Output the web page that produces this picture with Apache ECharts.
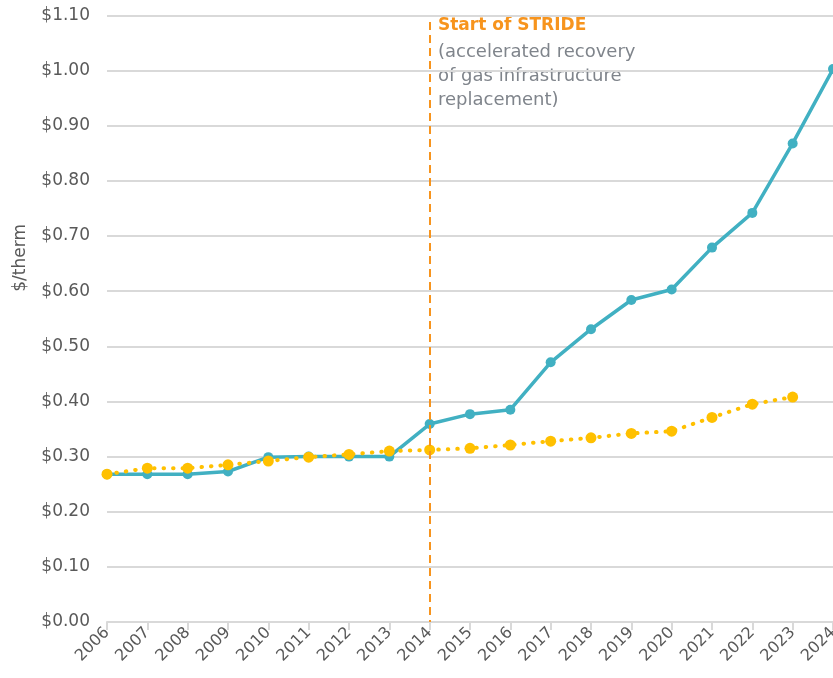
<!DOCTYPE html>
<html><head><meta charset="utf-8">
<script src="https://cdn.jsdelivr.net/npm/echarts@6/dist/echarts.min.js"></script>
<style>html,body{margin:0;padding:0;background:#fff}#c{width:833px;height:678px}</style>
</head><body><div id="c"></div>
<script>
const years = ['2006','2007','2008','2009','2010','2011','2012','2013','2014','2015','2016','2017','2018','2019','2020','2021','2022','2023','2024'];
const actualRate = [0.268,0.268,0.268,0.273,0.299,0.300,0.300,0.300,0.359,0.377,0.385,0.471,0.531,0.584,0.603,0.679,0.742,0.868,1.003];
const trendRate = [0.268,0.279,0.279,0.285,0.292,0.299,0.304,0.310,0.312,0.315,0.321,0.328,0.334,0.342,0.346,0.371,0.395,0.408,null];
const strideYear = '2014';
const annotTitle = 'Start of STRIDE';
const annotLines = ['(accelerated recovery', 'of gas infrastructure', 'replacement)'];
const yAxisName = '$/therm';

const FONT = '"DejaVu Sans", sans-serif';
const chart = echarts.init(document.getElementById('c'), null, {renderer:'canvas'});
chart.setOption({
  animation:false,
  grid:{left:107, right:0, top:15.5, bottom:56, containLabel:false, outerBoundsMode:'none'},
  xAxis:{
    type:'category', data:years, boundaryGap:false,
    axisLine:{lineStyle:{color:'#d9d9d9', width:2}},
    axisTick:{show:true, alignWithLabel:true, length:8, lineStyle:{color:'#d9d9d9', width:2}},
    axisLabel:{rotate:45, color:'#595959', fontSize:16, fontFamily:FONT, margin:8, interval:0, hideOverlap:false}
  },
  yAxis:{
    type:'value', min:0, max:1.1, interval:0.1,
    axisLine:{show:false}, axisTick:{show:false},
    splitLine:{lineStyle:{color:'#d9d9d9', width:2}},
    axisLabel:{color:'#595959', fontSize:17, fontFamily:FONT, margin:17,
      formatter:v=>'$'+v.toFixed(2)}
  },
  graphic:[
    {type:'text', left:12, top:224, rotation:Math.PI/2,
     style:{text:yAxisName, fill:'#595959', font:'17px '+FONT}},
    {type:'text', left:438, top:17, style:{text:annotTitle, fill:'#F7941D', font:'bold 17px '+FONT}},
    {type:'text', left:438, top:40, style:{text:annotLines.join('\n'), fill:'#7f848b', font:'18px '+FONT, lineHeight:24}}
  ],
  series:[
    {type:'line', data:actualRate, z:2,
     lineStyle:{color:'#41B0C2', width:3.5},
     itemStyle:{color:'#41B0C2'}, symbol:'circle', symbolSize:10,
     markLine:{silent:true, symbol:['none','none'], label:{show:false},
       lineStyle:{color:'#F7941D', width:2, type:[8,5]},
       data:[[{coord:[strideYear,1.088]},{coord:[strideYear,0]}]]}
    },
    {type:'line', data:trendRate, z:3,
     lineStyle:{color:'#FFC000', width:4, type:[0.5,9], cap:'round'},
     itemStyle:{color:'#FFC000'}, symbol:'circle', symbolSize:11}
  ]
});
</script></body></html>
